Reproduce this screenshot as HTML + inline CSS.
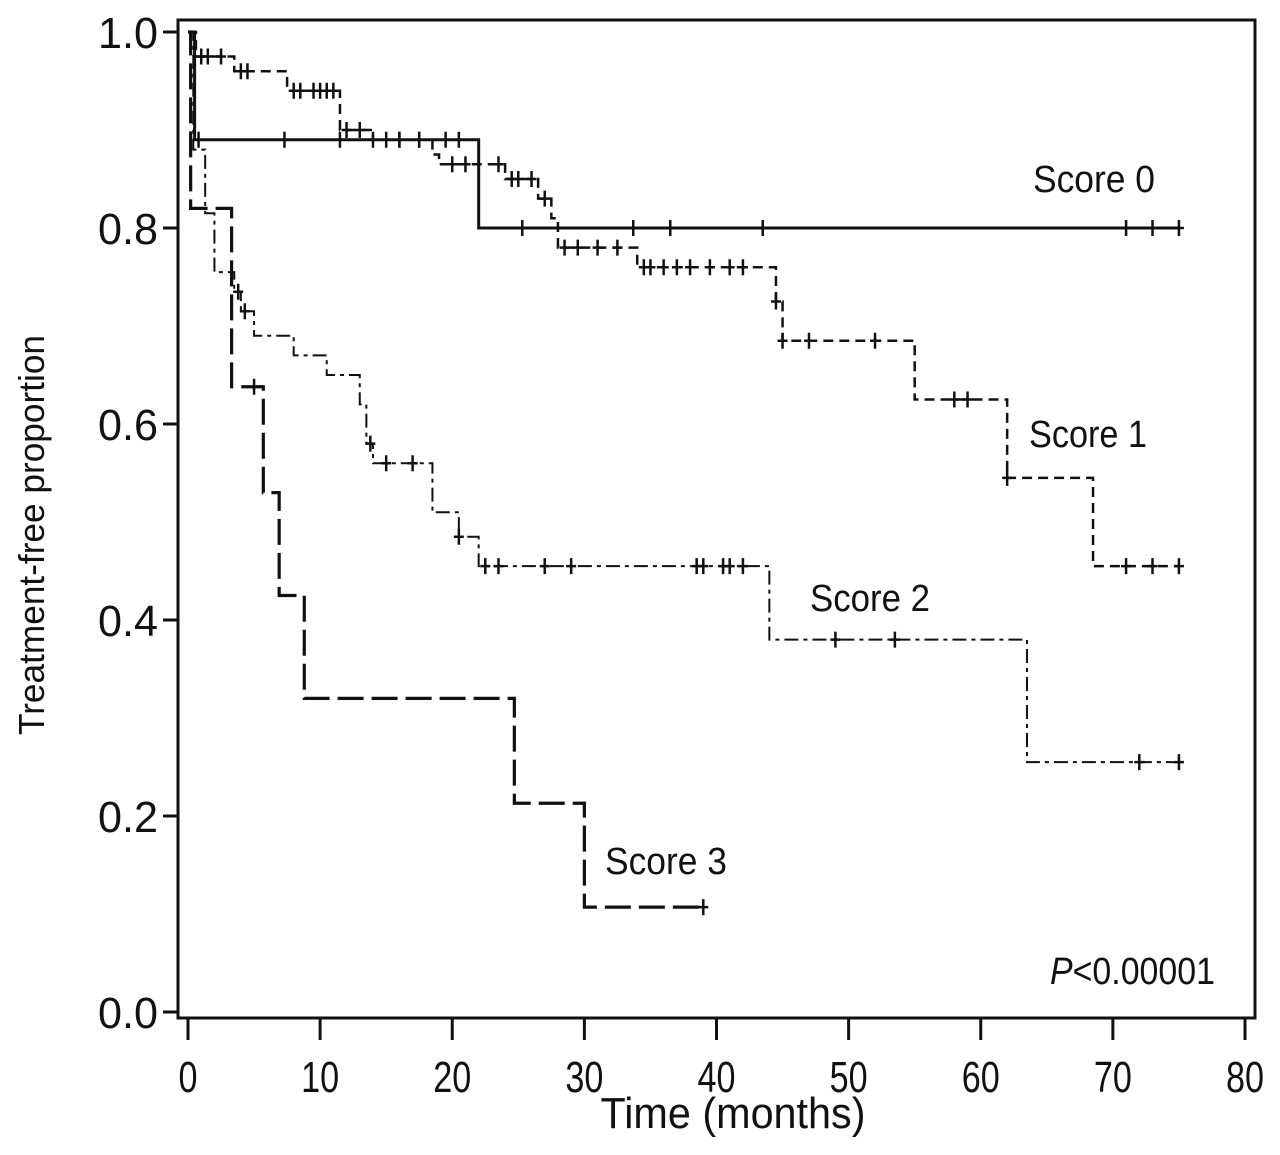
<!DOCTYPE html>
<html><head><meta charset="utf-8"><style>
html,body{margin:0;padding:0;background:#fff}
svg{display:block}
text{font-family:"Liberation Sans",sans-serif;fill:#111}
</style></head><body>
<svg id="chart" width="1280" height="1155" viewBox="0 0 1280 1155" xmlns="http://www.w3.org/2000/svg">
<rect x="178" y="20" width="1077" height="998" fill="none" stroke="#111" stroke-width="3"/>
<g id="axes"></g>
<g id="series"></g>
<text x="733" y="1128" font-size="44" text-anchor="middle" textLength="265" lengthAdjust="spacingAndGlyphs">Time (months)</text>
<text transform="translate(44,535) rotate(-90)" font-size="36" text-anchor="middle" textLength="400" lengthAdjust="spacingAndGlyphs">Treatment-free proportion</text>
<text x="1033" y="192" font-size="38" textLength="122" lengthAdjust="spacingAndGlyphs">Score 0</text>
<text x="1029" y="447" font-size="38" textLength="118" lengthAdjust="spacingAndGlyphs">Score 1</text>
<text x="810" y="611" font-size="38" textLength="120" lengthAdjust="spacingAndGlyphs">Score 2</text>
<text x="605" y="874" font-size="38" textLength="122" lengthAdjust="spacingAndGlyphs">Score 3</text>
<text x="1050" y="984" font-size="38" textLength="165" lengthAdjust="spacingAndGlyphs"><tspan font-style="italic">P</tspan>&lt;0.00001</text>
</svg>
<script>
const xTicks=[0,10,20,30,40,50,60,70,80];
const yTicks=[0.0,0.2,0.4,0.6,0.8,1.0];
const yTickLabels=["0.0","0.2","0.4","0.6","0.8","1.0"];
const s0Times=[0,0.5,22];
const s0Vals=[1.0,0.89,0.80];
const s0End=75;
const s0Cens=[0.8,7.3,11.5,14,16,17.5,19.5,20.5,25.3,33.7,36.5,43.5,71,73,75];
const s1Times=[0,0.6,3.5,7.5,11.5,14,18.5,19,24,26.5,27.5,28,34,44.5,45,55,62,68.5];
const s1Vals=[1.0,0.975,0.96,0.94,0.90,0.89,0.875,0.865,0.85,0.83,0.81,0.78,0.76,0.725,0.685,0.625,0.545,0.455];
const s1End=75;
const s1Cens=[1,1.5,2.5,4,4.5,8,8.5,9.5,10,10.5,11,12,13,15,16,17.5,20,21,23.5,24.5,25,26,27,28.5,29.5,31,32.5,34.5,35,36,37,38,39.5,41,42,44.5,45,47,52,58,59,62,71,73,75];
const s2Times=[0,0.4,1.3,2,3.5,4,5,8,10.5,13,13.5,14,18.5,20.5,22,44,63.5];
const s2Vals=[1.0,0.88,0.815,0.755,0.735,0.715,0.69,0.67,0.65,0.62,0.58,0.56,0.51,0.485,0.455,0.38,0.255];
const s2End=75;
const s2Cens=[3.8,4.3,13.8,15,17,20.5,22.5,23.5,27,29,38.5,39,40.5,41,42,49,53.5,72,75];
const s3Times=[0,0.2,3.3,5.7,6.9,8.8,24.7,30];
const s3Vals=[1.0,0.82,0.638,0.53,0.425,0.32,0.213,0.107];
const s3End=39;
const s3Cens=[5,39];

const X=t=>188+t*(1245-188)/80;
const Y=v=>1012-v*980;
const NS="http://www.w3.org/2000/svg";
const axes=document.getElementById('axes');
const series=document.getElementById('series');
function mk(tag,attrs,parent){const e=document.createElementNS(NS,tag);for(const k in attrs)e.setAttribute(k,attrs[k]);parent.appendChild(e);return e;}

xTicks.forEach(t=>{
  const l=mk('line',{x1:X(t),x2:X(t),y1:1018,y2:1040,stroke:'#111','stroke-width':3},axes);
  
  
  const tx=mk('text',{x:X(t),y:1092,'font-size':44,'text-anchor':'middle'},axes);
  
  
  tx.textContent=String(t);
  tx.setAttribute('textLength',String(t).length*19);
  tx.setAttribute('lengthAdjust','spacingAndGlyphs');
});
yTicks.forEach((v,i)=>{
  const l=mk('line',{x1:163,x2:178,y1:Y(v),y2:Y(v),stroke:'#111','stroke-width':3},axes);
  
  
  const tx=mk('text',{x:158,y:Y(v)+16,'font-size':44,'text-anchor':'end',textLength:60,lengthAdjust:'spacingAndGlyphs'},axes);
  
  
  tx.textContent=yTickLabels[i];
});

function valAt(times,vals,t){let v=vals[0];for(let i=0;i<times.length;i++){if(times[i]<=t)v=vals[i];}return v;}
function drawCurve(name,times,vals,end,cens,dash,w){
  let d='M'+X(times[0])+','+Y(vals[0]);
  for(let i=1;i<times.length;i++){d+=' H'+X(times[i])+' V'+Y(vals[i]);}
  d+=' H'+X(end);
  const p=mk('path',{d:d,fill:'none',stroke:'#111','stroke-width':w,'stroke-dasharray':dash},series);
  
  
  cens.forEach(t=>{
    const v=valAt(times,vals,t);
    const c=mk('path',{d:'M'+X(t)+','+(Y(v)-8)+' V'+(Y(v)+8)+' M'+(X(t)-5)+','+Y(v)+' H'+(X(t)+5),stroke:'#111','stroke-width':2.5,fill:'none'},series);
    
    
  });
}
drawCurve('score-0',s0Times,s0Vals,s0End,s0Cens,'none',3);
drawCurve('score-1',s1Times,s1Vals,s1End,s1Cens,'10,6',2.5);
drawCurve('score-2',s2Times,s2Vals,s2End,s2Cens,'14,5,4,5',2);
drawCurve('score-3',s3Times,s3Vals,s3End,s3Cens,'26,8',3.2);
</script>
</body></html>
